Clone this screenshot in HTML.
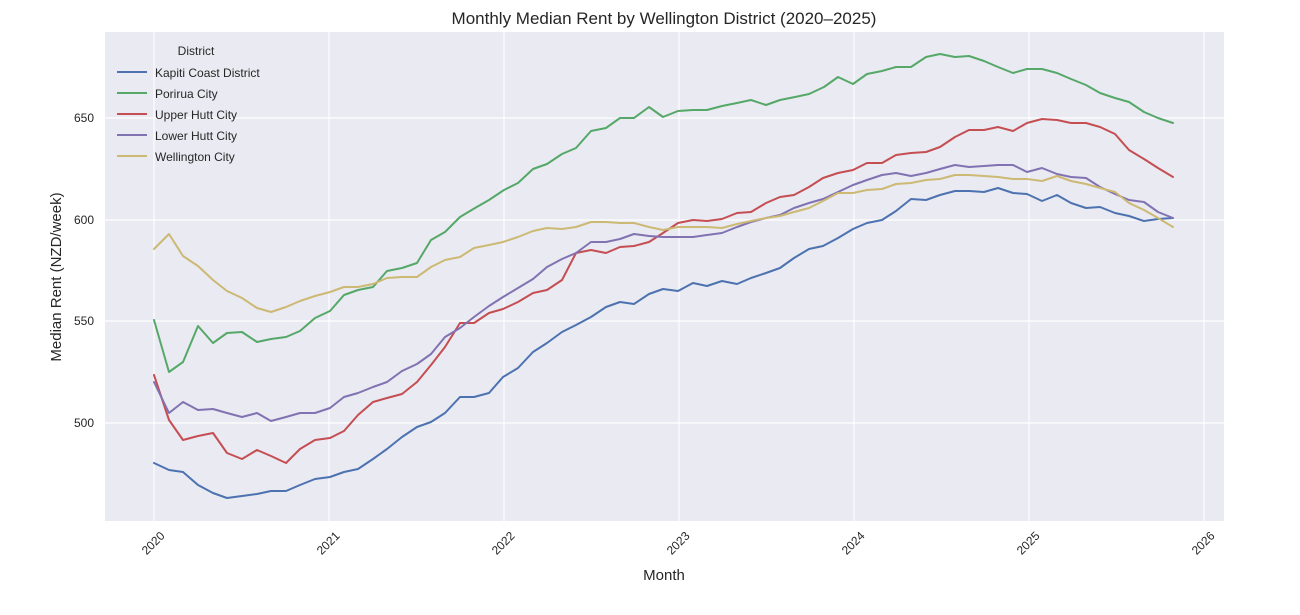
<!DOCTYPE html>
<html><head><meta charset="utf-8"><style>
body{margin:0;background:#fff;}
svg text{font-family:"Liberation Sans",sans-serif;fill:#262626;}
</style></head><body>
<svg width="1300" height="610" viewBox="0 0 1300 610" xmlns="http://www.w3.org/2000/svg">
<rect x="0" y="0" width="1300" height="610" fill="#fff"/>
<rect x="105" y="32" width="1119" height="489" fill="#eaeaf2"/>
<g stroke="#fff" stroke-width="1.2">
<line x1="105" x2="1224" y1="118" y2="118"/><line x1="105" x2="1224" y1="220" y2="220"/>
<line x1="105" x2="1224" y1="321" y2="321"/><line x1="105" x2="1224" y1="423" y2="423"/>
<line y1="32" y2="521" x1="154" x2="154"/><line y1="32" y2="521" x1="329" x2="329"/>
<line y1="32" y2="521" x1="504" x2="504"/><line y1="32" y2="521" x1="679" x2="679"/>
<line y1="32" y2="521" x1="854" x2="854"/><line y1="32" y2="521" x1="1029" x2="1029"/>
<line y1="32" y2="521" x1="1204" x2="1204"/>
</g>
<g font-size="12" text-anchor="end">
<text x="94" y="122">650</text><text x="94" y="224">600</text><text x="94" y="325">550</text><text x="94" y="427">500</text>
</g>
<g font-size="12" text-anchor="middle">
<text transform="translate(156,546) rotate(-45)">2020</text>
<text transform="translate(331,546) rotate(-45)">2021</text>
<text transform="translate(506,546) rotate(-45)">2022</text>
<text transform="translate(681,546) rotate(-45)">2023</text>
<text transform="translate(856,546) rotate(-45)">2024</text>
<text transform="translate(1031,546) rotate(-45)">2025</text>
<text transform="translate(1206,546) rotate(-45)">2026</text>
</g>
<text x="664" y="24" font-size="17" text-anchor="middle">Monthly Median Rent by Wellington District (2020–2025)</text>
<text x="664" y="580" font-size="15" text-anchor="middle">Month</text>
<text transform="translate(61,277) rotate(-90)" font-size="15" text-anchor="middle">Median Rent (NZD/week)</text>
<g fill="none" stroke-width="2" stroke-linejoin="round" stroke-linecap="round">
<polyline stroke="#4c72b0" points="154,463 169,470 183,472 198,485 213,493 227,498 242,496 257,494 271,491 286,491 300,485 315,479 330,477 344,472 358,469 373,459 387,449 402,437 417,427 431,422 445,413 460,397 474,397 489,393 503,377 518,368 533,352 547,343 562,332 576,325 591,317 606,307 620,302 634,304 649,294 663,289 678,291 693,283 707,286 722,281 737,284 751,278 766,273 780,268 794,258 809,249 823,246 838,238 853,229 867,223 882,220 896,211 911,199 926,200 940,195 955,191 969,191 984,192 998,188 1013,193 1027,194 1042,201 1057,195 1071,203 1086,208 1100,207 1115,213 1129,216 1144,221 1158,219 1173,218"/>
<polyline stroke="#55a868" points="154,320 169,372 183,362 198,326 213,343 227,333 242,332 257,342 271,339 286,337 300,331 315,318 330,311 344,295 358,290 373,287 387,271 402,268 417,263 431,240 445,232 460,217 475,208 489,200 504,190 518,183 533,169 547,164 562,154 576,148 591,131 606,128 620,118 634,118 649,107 663,117 678,111 693,110 707,110 722,106 737,103 751,100 766,105 780,100 795,97 809,94 824,87 838,77 853,84 867,74 882,71 896,67 911,67 926,57 940,54 955,57 969,56 984,61 998,67 1013,73 1027,69 1042,69 1057,73 1071,79 1086,85 1100,93 1115,98 1129,102 1144,112 1158,118 1173,123"/>
<polyline stroke="#c44e52" points="154,375 169,420 183,440 198,436 213,433 227,453 242,459 257,450 271,456 286,463 300,449 315,440 330,438 344,431 358,415 373,402 387,398 402,394 417,382 431,365 445,347 460,323 474,323 489,313 503,309 518,302 533,293 547,290 562,280 576,253 591,250 606,253 620,247 634,246 649,242 663,233 678,223 693,220 707,221 722,219 737,213 751,212 766,203 780,197 794,195 809,187 823,178 838,173 853,170 867,163 882,163 896,155 911,153 926,152 940,147 955,137 969,130 984,130 998,127 1013,131 1027,123 1042,119 1057,120 1071,123 1086,123 1100,127 1115,134 1129,150 1144,159 1158,168 1173,177"/>
<polyline stroke="#8172b2" points="154,382 169,413 183,402 198,410 213,409 227,413 242,417 257,413 271,421 286,417 300,413 315,413 330,408 344,397 358,393 373,387 387,382 402,371 417,364 431,354 445,337 460,328 474,317 489,306 503,297 518,288 533,279 547,267 562,259 576,253 591,242 606,242 620,239 634,234 649,236 663,237 678,237 693,237 707,235 722,233 737,227 751,222 766,218 780,215 794,208 809,203 823,199 838,192 853,185 867,180 882,175 896,173 911,176 926,173 940,169 955,165 969,167 984,166 998,165 1013,165 1027,172 1042,168 1057,174 1071,177 1086,178 1100,187 1115,194 1129,200 1144,202 1158,212 1173,218"/>
<polyline stroke="#ccb974" points="154,249 169,234 183,256 198,266 213,280 227,291 242,298 257,308 271,312 286,307 300,301 315,296 330,292 344,287 358,287 373,284 387,278 402,277 417,277 431,267 445,260 460,257 474,248 489,245 503,242 518,237 533,231 547,228 562,229 576,227 591,222 606,222 620,223 634,223 649,227 663,230 678,227 693,227 707,227 722,228 737,224 751,221 766,218 780,216 794,212 809,208 823,201 838,193 853,193 867,190 882,189 896,184 911,183 926,180 940,179 955,175 969,175 984,176 998,177 1013,179 1027,179 1042,181 1057,176 1071,181 1086,184 1100,188 1115,192 1129,203 1144,210 1158,218 1173,227"/>
</g>
<text x="196" y="55" font-size="12" text-anchor="middle">District</text>
<g stroke-width="2">
<line x1="117" x2="147" y1="72" y2="72" stroke="#4c72b0"/>
<line x1="117" x2="147" y1="93" y2="93" stroke="#55a868"/>
<line x1="117" x2="147" y1="114" y2="114" stroke="#c44e52"/>
<line x1="117" x2="147" y1="135" y2="135" stroke="#8172b2"/>
<line x1="117" x2="147" y1="156" y2="156" stroke="#ccb974"/>
</g>
<g font-size="12">
<text x="155" y="77">Kapiti Coast District</text>
<text x="155" y="98">Porirua City</text>
<text x="155" y="119">Upper Hutt City</text>
<text x="155" y="140">Lower Hutt City</text>
<text x="155" y="161">Wellington City</text>
</g>
</svg>
</body></html>
